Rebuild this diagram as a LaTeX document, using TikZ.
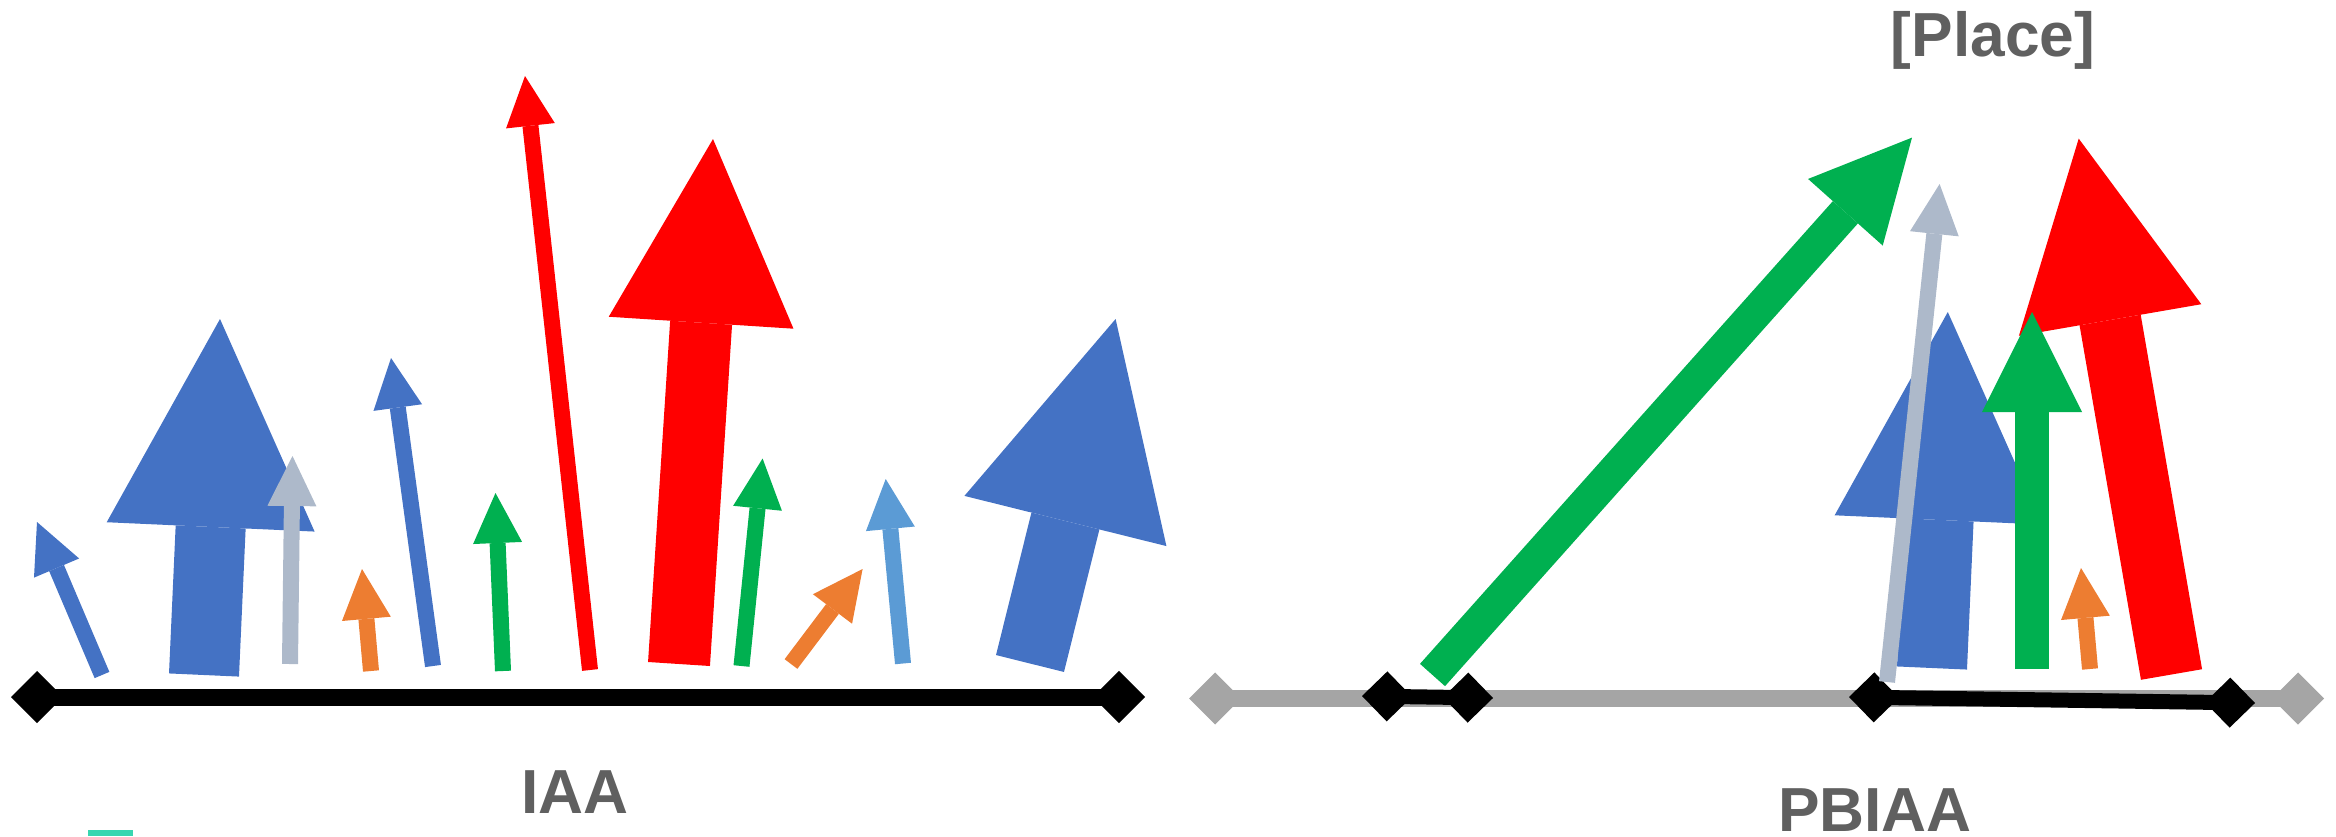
\documentclass[tikz,border=0pt]{standalone}
\usepackage{fontspec}
\setmainfont{Liberation Sans}
\usetikzlibrary{arrows.meta}

\definecolor{fluxblue}{HTML}{4472C4}
\definecolor{fluxgrey}{HTML}{ADB9CA}
\definecolor{fluxorange}{HTML}{ED7D31}
\definecolor{fluxgreen}{HTML}{00B050}
\definecolor{fluxred}{HTML}{FF0000}
\definecolor{fluxsky}{HTML}{5B9BD5}
\definecolor{axisgrey}{HTML}{A5A5A5}
\definecolor{labelgrey}{HTML}{606060}
\definecolor{markteal}{HTML}{38D6B0}

\begin{document}
\begin{tikzpicture}[
  x=0.01cm, y=-0.01cm,
  bigflux/.style={line width=0.70cm,
    -{Triangle[width=2.08cm, length=2.08cm, line width=0pt]}},
  redflux/.style={line width=0.62cm,
    -{Triangle[width=1.85cm, length=1.84cm, line width=0pt]}},
  greenflux/.style={line width=0.335cm,
    -{Triangle[width=1.0cm, length=1.0cm, line width=0pt]}},
  thinflux/.style={line width=0.16cm,
    -{Triangle[width=0.49cm, length=0.50cm, line width=0pt]}},
  axis/.style={line width=0.17cm,
    {Diamond[width=0.52cm, length=0.52cm, line width=0pt]}-{Diamond[width=0.52cm, length=0.52cm, line width=0pt]}},
  segment/.style={line width=0.15cm,
    {Diamond[width=0.50cm, length=0.50cm, line width=0pt]}-{Diamond[width=0.50cm, length=0.50cm, line width=0pt]}},
  label/.style={font=\fontsize{17.7}{20}\selectfont\bfseries, text=labelgrey, inner sep=0pt}
]
  \useasboundingbox (0,0) rectangle (2336,836);

  % IAA
  \draw[axis, black] (11,697) -- (1145,697);
  \draw[thinflux, fluxblue] (102,675) -- (37,522);
  \draw[bigflux, fluxblue] (204,675) -- (220,319);
  \draw[thinflux, fluxgrey] (290,664) -- (292.5,456);
  \draw[thinflux, fluxorange] (371,671) -- (362,569);
  \draw[thinflux, fluxblue] (433,666) -- (391,358);
  \draw[thinflux, fluxgreen] (503,671) -- (495.5,493);
  \draw[thinflux, fluxred] (590,670) -- (525,76);
  \draw[redflux, fluxred] (679,664) -- (713,139);
  \draw[thinflux, fluxgreen] (741.5,666) -- (762.6,458.5);
  \draw[thinflux, fluxorange] (791,664) -- (862.6,569);
  \draw[thinflux, fluxsky] (903,663.5) -- (885.7,479);
  \draw[bigflux, fluxblue] (1030,663.5) -- (1115.6,319);
  \node[label, anchor=base] (iaa) at (575,813) {IAA};

  % PBIAA
  \draw[axis, axisgrey] (1189,698.5) -- (2324,698.5);
  \draw[segment, black] (1362,696) -- (1493,698);
  \draw[segment, black] (1849,697) -- (2255,703);
  \draw[greenflux, fluxgreen] (1432.5,675) -- (1912,137.6);
  \draw[bigflux, fluxblue] (1932,668) -- (1947.8,312);
  \draw[redflux, fluxred] (2171.5,674.5) -- (2078.7,138.6);
  \draw[thinflux, fluxgrey] (1887,682) -- (1939.6,184);
  \draw[greenflux, fluxgreen] (2032,669) -- (2032,312);
  \draw[thinflux, fluxorange] (2090,669) -- (2081,568);
  \node[label, anchor=base] (pbiaa) at (1875,831) {PBIAA};
  \node[label, anchor=base] (place) at (1993,56) {[Place]};

  \fill[markteal] (88,830) rectangle (133,836);
\end{tikzpicture}
\end{document}
